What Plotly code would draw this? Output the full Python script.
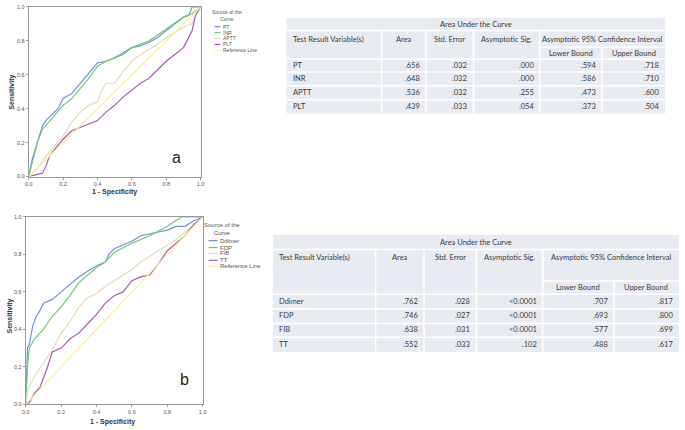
import plotly.graph_objects as go

# ---- ROC curve data ----
# panel a
pt_fpr = [0, .02, .05, .08, .10, .13, .17, .20, .25, .30, .35, .40, .45, .50, .55, .60, .65, .70, .75, .80, .85, .90, .93, .95, 1.0]
pt_tpr = [0, .10, .20, .30, .33, .36, .40, .46, .49, .55, .61, .67, .68, .70, .73, .76, .77, .79, .82, .86, .90, .94, .95, 1.0, 1.0]
inr_fpr = [0, .02, .05, .08, .10, .15, .20, .25, .30, .35, .40, .45, .50, .55, .60, .70, .80, .90, .95, 1.0]
inr_tpr = [0, .08, .20, .28, .30, .36, .42, .46, .52, .58, .65, .68, .70, .72, .76, .80, .87, .94, .96, 1.0]
aptt_fpr = [0, .05, .10, .15, .20, .25, .30, .35, .40, .42, .45, .50, .52, .55, .60, .65, .70, .75, .80, .85, .90, .95, .97, 1.0]
aptt_tpr = [0, .05, .12, .18, .24, .32, .38, .42, .44, .50, .55, .55, .58, .62, .68, .72, .75, .78, .82, .85, .88, .90, .95, 1.0]
plt_fpr = [0, .05, .08, .10, .12, .15, .20, .25, .30, .35, .40, .45, .50, .55, .60, .65, .70, .75, .80, .85, .90, .92, .95, .97, 1.0]
plt_tpr = [0, .01, .02, .06, .12, .16, .22, .27, .29, .31, .33, .38, .42, .47, .51, .55, .58, .63, .68, .72, .76, .80, .86, .95, 1.0]

# panel b
dd_fpr = [0, .005, .01, .02, .04, .06, .08, .10, .15, .20, .25, .30, .35, .40, .45, .47, .50, .55, .60, .65, .70, .80, .85, .90, .95, 1.0]
dd_tpr = [0, .20, .30, .32, .42, .47, .50, .54, .56, .60, .64, .68, .71, .74, .76, .80, .83, .85, .87, .90, .91, .93, .95, .95, .98, 1.0]
fdp_fpr = [0, .01, .02, .05, .10, .15, .20, .25, .30, .35, .40, .45, .50, .60, .70, .80, .85, .88, 1.0]
fdp_tpr = [0, .20, .30, .35, .40, .47, .52, .58, .65, .69, .73, .76, .81, .86, .90, .95, .98, 1.0, 1.0]
fib_fpr = [0, .01, .05, .10, .15, .20, .25, .30, .35, .40, .45, .50, .55, .60, .65, .70, .75, .80, .85, .90, .95, 1.0]
fib_tpr = [0, .08, .15, .22, .29, .38, .44, .52, .57, .59, .63, .66, .69, .72, .76, .79, .82, .85, .88, .92, .95, 1.0]
tt_fpr = [0, .02, .05, .08, .10, .12, .15, .20, .25, .30, .35, .40, .45, .50, .55, .60, .65, .70, .75, .80, .85, .90, .95, 1.0]
tt_tpr = [0, .01, .06, .09, .14, .19, .28, .30, .35, .38, .43, .48, .54, .58, .60, .66, .68, .69, .75, .82, .86, .90, .96, 1.0]

ref_x = [0, 1]
ref_y = [0, 1]

# ---- table data ----
names_a = ["PT", "INR", "APTT", "PLT"]
area_a = [".656", ".648", ".536", ".439"]
se_a = [".032", ".032", ".032", ".033"]
sig_a = [".000", ".000", ".255", ".054"]
low_a = [".594", ".586", ".473", ".373"]
up_a = [".718", ".710", ".600", ".504"]

names_b = ["Ddimer", "FDP", "FIB", "TT"]
area_b = [".762", ".746", ".638", ".552"]
se_b = [".028", ".027", ".031", ".033"]
sig_b = ["<0.0001", "<0.0001", "<0.0001", ".102"]
low_b = [".707", ".693", ".577", ".488"]
up_b = [".817", ".800", ".699", ".617"]

colors = ["#7b8fd8", "#6cc97f", "#e0dcb2", "#a85db0"]
ref_color = "#f6f19c"

W, H = 685, 430


def fx(x):
    return x / W


def fy(y):
    return 1 - y / H


fig = go.Figure()

curves_a = [(pt_fpr, pt_tpr), (inr_fpr, inr_tpr), (aptt_fpr, aptt_tpr), (plt_fpr, plt_tpr)]
curves_b = [(dd_fpr, dd_tpr), (fdp_fpr, fdp_tpr), (fib_fpr, fib_tpr), (tt_fpr, tt_tpr)]

for (cx, cy), name, c in zip(curves_a, names_a, colors):
    fig.add_trace(go.Scatter(x=cx, y=cy, mode="lines", name=name,
                             line=dict(color=c, width=1.2), xaxis="x", yaxis="y"))
fig.add_trace(go.Scatter(x=ref_x, y=ref_y, mode="lines", name="Reference Line",
                         line=dict(color=ref_color, width=1.2), xaxis="x", yaxis="y"))

for (cx, cy), name, c in zip(curves_b, names_b, colors):
    fig.add_trace(go.Scatter(x=cx, y=cy, mode="lines", name=name,
                             line=dict(color=c, width=1.2), xaxis="x2", yaxis="y2"))
fig.add_trace(go.Scatter(x=ref_x, y=ref_y, mode="lines", name="Reference Line",
                         line=dict(color=ref_color, width=1.2), xaxis="x2", yaxis="y2"))

ax_style = dict(range=[0, 1], dtick=0.2, tickformat=".1f", showgrid=False, zeroline=False,
                showline=True, linecolor="#9a9a9a", linewidth=1, mirror=True,
                ticks="outside", ticklen=2, tickcolor="#9a9a9a",
                tickfont=dict(family="Liberation Sans", size=5.5, color="#555"))

shapes = []
annotations = []


def note(x, y, s, font, xanchor="center", **kw):
    # pixel position -> paper position, always anchored explicitly
    annotations.append(dict(x=fx(x), y=fy(y), xref="paper", yref="paper", text=s,
                            xanchor=xanchor, yanchor="middle", showarrow=False, font=font, **kw))


# axis titles and panel letters
title_font = dict(family="Liberation Sans", size=7, color="#333")
for xt, yt, xs, ys, letter, lx, ly in [(112, 192, 8, 90, "a", 175, 157), (110, 425, 6, 317, "b", 183, 382)]:
    note(xt, yt, "<b>1 - Specificity</b>", title_font)
    note(xs, ys, "<b>Sensitivity</b>", title_font, textangle=-90)
    note(lx, ly, letter, dict(family="Liberation Sans", size=16, color="#222"))


# manual legends
def add_legend(names, x0, x1, ytitle, yitems, cx, fsize):
    lfont = dict(family="Liberation Sans", size=fsize, color="#555")
    note(cx, ytitle, "Source of the<br>Curve", lfont, align="center")
    for name, c, yy in zip(names + ["Reference Line"], colors + [ref_color], yitems):
        shapes.append(dict(type="line", xref="paper", yref="paper", x0=fx(x0), x1=fx(x1),
                           y0=fy(yy), y1=fy(yy), line=dict(color=c, width=1.2)))
        note(x1 + 0.5, yy, name, lfont, xanchor="left")


add_legend(names_a, 213, 219, 13, [24, 30, 36, 42, 48], 226, 5)
add_legend(names_b, 207, 216, 229, [241, 248, 254, 261, 267], 221, 6)

fill = "#e8ebf2"
tfont = dict(family="Lato", size=7.5, color="#3a3a3a")


# tables built from cells
def add_table(cols, rows, sub_y, title_y, head_y, sub_text_y, data_y, names, area, se, sig, low, up):
    left, right = cols[0], cols[-1]
    top, bottom = rows[0], rows[-1]
    shapes.append(dict(type="rect", xref="paper", yref="paper", x0=fx(left), x1=fx(right),
                       y0=fy(top), y1=fy(bottom), fillcolor=fill, line=dict(width=0), layer="below"))
    line = dict(color="white", width=1.5)
    # horizontal lines
    for r in rows[1:-1]:
        shapes.append(dict(type="line", xref="paper", yref="paper", x0=fx(left), x1=fx(right),
                           y0=fy(r), y1=fy(r), line=line))
    shapes.append(dict(type="line", xref="paper", yref="paper", x0=fx(cols[4]), x1=fx(right),
                       y0=fy(sub_y), y1=fy(sub_y), line=line))
    # vertical lines
    for c in cols[1:-1]:
        y_start = sub_y if c == cols[5] else rows[1]
        shapes.append(dict(type="line", xref="paper", yref="paper", x0=fx(c), x1=fx(c),
                           y0=fy(y_start), y1=fy(bottom), line=line))

    note((left + right) / 2, title_y, "Area Under the Curve", tfont)
    note(left + 4, head_y, "Test Result Variable(s)", tfont, xanchor="left")
    note((cols[1] + cols[2]) / 2, head_y, "Area", tfont)
    note((cols[2] + cols[3]) / 2, head_y, "Std. Error", tfont)
    note((cols[3] + cols[4]) / 2, head_y, "Asymptotic Sig.", tfont)
    note((cols[4] + cols[6]) / 2, head_y, "Asymptotic 95% Confidence Interval", tfont)
    note((cols[4] + cols[5]) / 2, sub_text_y, "Lower Bound", tfont)
    note((cols[5] + cols[6]) / 2, sub_text_y, "Upper Bound", tfont)
    for i, yy in enumerate(data_y):
        note(left + 4, yy, names[i], tfont, xanchor="left")
        for j, vals in enumerate([area, se, sig, low, up]):
            note(cols[j + 2] - 4, yy, vals[i], tfont, xanchor="right")


add_table([286, 382, 427, 475, 542, 605, 669], [15, 28, 57, 70, 84, 98, 112], 45,
          22, 37, 51, [63, 77, 91, 105], names_a, area_a, se_a, sig_a, low_a, up_a)
add_table([272, 376, 425, 478, 545, 617, 683], [235, 250, 295, 310, 325, 339, 354], 282,
          243, 258, 289, [303, 317, 331, 346], names_b, area_b, se_b, sig_b, low_b, up_b)

fig.update_layout(
    width=W, height=H,
    margin=dict(l=0, r=0, t=0, b=0),
    paper_bgcolor="white", plot_bgcolor="white",
    showlegend=False,
    xaxis=dict(domain=[fx(25), fx(199)], anchor="y", **ax_style),
    yaxis=dict(domain=[fy(176), fy(4)], anchor="x", **ax_style),
    xaxis2=dict(domain=[fx(22), fx(201)], anchor="y2", **ax_style),
    yaxis2=dict(domain=[fy(407), fy(217)], anchor="x2", **ax_style),
    shapes=shapes,
    annotations=annotations,
)

# drop the default page margin so the figure sits at the window's top-left corner
fig.write_html("out.html", config={"displayModeBar": False},
               post_script="document.body.style.margin='0px';")
